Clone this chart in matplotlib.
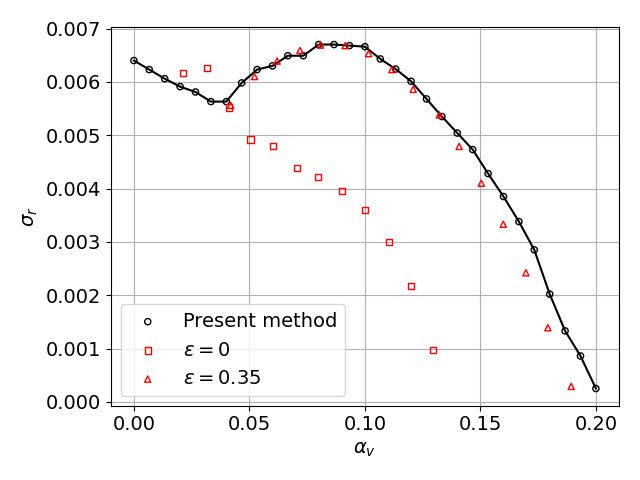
import numpy as np
import matplotlib
matplotlib.use('Agg')
import matplotlib.pyplot as plt

# present method
alpha_present = np.linspace(0, 0.2, 31)
sigma_present = [6.40, 6.23, 6.06, 5.91, 5.81, 5.63, 5.63, 5.98, 6.23, 6.30,
                 6.49, 6.49, 6.70, 6.70, 6.68, 6.66, 6.43, 6.24, 6.01, 5.68,
                 5.35, 5.04, 4.73, 4.28, 3.85, 3.38, 2.85, 2.02, 1.33, 0.86,
                 0.25]
sigma_present = np.array(sigma_present) * 1e-3

# epsilon = 0
alpha_eps0 = [0.0214, 0.0315, 0.0413, 0.0505, 0.0603, 0.0707, 0.0797, 0.0900,
              0.1001, 0.1105, 0.1200, 0.1296]
sigma_eps0 = np.array([6.17, 6.26, 5.52, 4.92, 4.79, 4.39, 4.21, 3.96,
                       3.59, 2.99, 2.17, 0.97]) * 1e-3

# epsilon = 0.35
alpha_eps35 = [0.0419, 0.0522, 0.0620, 0.0719, 0.0808, 0.0915, 0.1016, 0.1117,
               0.1209, 0.1322, 0.1408, 0.1504, 0.1599, 0.1697, 0.1792, 0.1893]
sigma_eps35 = np.array([5.56, 6.10, 6.39, 6.59, 6.69, 6.68, 6.53, 6.23,
                        5.86, 5.38, 4.79, 4.10, 3.33, 2.42, 1.39, 0.29]) * 1e-3

plt.rcParams['font.size'] = 14

plt.figure(figsize=(6.4, 4.8))
plt.plot(alpha_present, sigma_present, 'k-', linewidth=1.5)
plt.scatter(alpha_present, sigma_present, s=20, facecolors='none', edgecolors='k',
            label='Present method', zorder=3)
plt.scatter(alpha_eps0, sigma_eps0, s=20, marker='s', facecolors='none', edgecolors='r',
            label=r'$\varepsilon = 0$', zorder=3)
plt.scatter(alpha_eps35, sigma_eps35, s=20, marker='^', facecolors='none', edgecolors='r',
            label=r'$\varepsilon = 0.35$', zorder=3)
plt.xlabel(r'$\alpha_v$')
plt.ylabel(r'$\sigma_r$')
plt.grid(True)
plt.legend(loc='lower left')
plt.tight_layout()
plt.savefig('out.png', dpi=100)
